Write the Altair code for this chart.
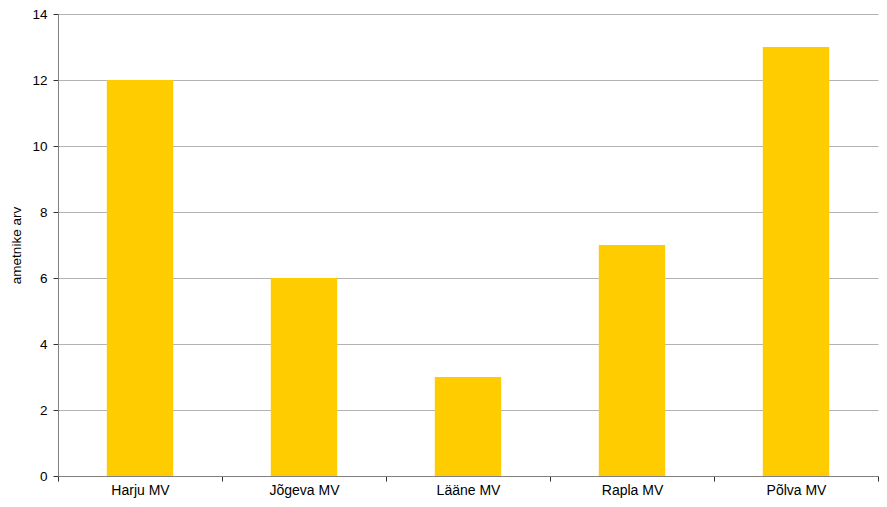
import altair as alt
import pandas as pd

categories = ["Harju MV", "Jõgeva MV", "Lääne MV", "Rapla MV", "Põlva MV"]
values = [12, 6, 3, 7, 13]

df = pd.DataFrame({"cat": categories, "val": values})

FONT = "Liberation Sans"

chart = alt.Chart(df).mark_bar(color="#FFCC00", width=alt.RelativeBandSize(0.405)).encode(
    x=alt.X("cat:N", sort=categories, title=None,
            scale=alt.Scale(paddingInner=0, paddingOuter=0),
            axis=alt.Axis(labelAngle=0, tickBand="extent", tickSize=5,
                          tickColor="#333333", domainColor="#808080",
                          labelFont=FONT, labelFontSize=14, labelColor="#000000",
                          labelPadding=2, grid=False)),
    y=alt.Y("val:Q", title="ametnike arv",
            scale=alt.Scale(domain=[0, 14], nice=False),
            axis=alt.Axis(values=[0, 2, 4, 6, 8, 10, 12, 14], tickSize=5,
                          tickColor="#333333", domainColor="#808080",
                          gridColor="#b3b3b3", gridOpacity=1,
                          labelFont=FONT, labelFontSize=13.5, labelColor="#000000",
                          labelPadding=6, titleFont=FONT, titleFontSize=13.5,
                          titleFontWeight="normal", titleColor="#000000",
                          titlePadding=8)),
).properties(
    width=820, height=462,
    autosize=alt.AutoSizeParams(type="none"),
    padding={"left": 50, "top": 6, "right": 1, "bottom": 22},
).configure_view(stroke=None)

chart.save("out.html", embed_options={"renderer": "svg", "actions": False})
